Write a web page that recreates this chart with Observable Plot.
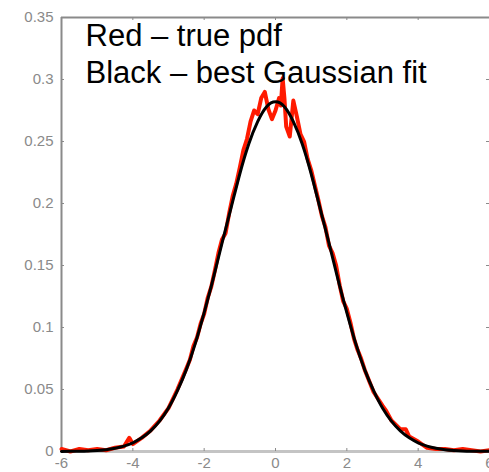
<!DOCTYPE html>
<html>
<head>
<meta charset="utf-8">
<script src="https://cdn.jsdelivr.net/npm/d3@7"></script>
<script src="https://cdn.jsdelivr.net/npm/@observablehq/plot@0.6"></script>
<style>
  html, body { margin: 0; padding: 0; background: #fff; overflow: hidden; }
  #chart { width: 489px; height: 472px; overflow: hidden; }
</style>
</head>
<body>
<div id="chart"></div>
<script>
// Tick values
const xTicks = [-6, -4, -2, 0, 2, 4, 6];
const yTicks = [0, 0.05, 0.1, 0.15, 0.2, 0.25, 0.3, 0.35];

// Annotation text
const annotation = ["Red – true pdf", "Black – best Gaussian fit"];

const redX = [-6, -5.75, -5.5, -5.25, -5, -4.75, -4.5, -4.25, -4.1, -4, -3.75, -3.5, -3.25, -3, -2.75, -2.5,
  -2.4, -2.3, -2.2, -2.1, -2, -1.9, -1.8, -1.7, -1.6, -1.5, -1.4, -1.3, -1.2, -1.1, -1, -0.9, -0.8, -0.7, -0.6, -0.5,
  -0.4, -0.3, -0.2, -0.1, 0, 0.1, 0.15, 0.2, 0.25, 0.3, 0.4, 0.5, 0.6, 0.7, 0.8, 0.9, 1, 1.1, 1.2, 1.3, 1.4, 1.5,
  1.6, 1.7, 1.8, 1.9, 2, 2.1, 2.2, 2.3, 2.4, 2.5, 2.75, 3, 3.1, 3.25, 3.5, 3.65, 3.75, 4, 4.25, 4.5, 4.75, 5,
  5.25, 5.5, 5.75, 6];
const redY = [0.002, 0.000, 0.002, 0.001, 0.002, 0.001, 0.003, 0.004, 0.011, 0.006, 0.011, 0.017, 0.025, 0.035, 0.050, 0.067,
  0.074, 0.085, 0.092, 0.103, 0.111, 0.124, 0.133, 0.146, 0.160, 0.171, 0.176, 0.192, 0.206, 0.216, 0.229, 0.243, 0.252, 0.266, 0.275, 0.272,
  0.285, 0.290, 0.276, 0.268, 0.275, 0.285, 0.279, 0.301, 0.285, 0.262, 0.254, 0.283, 0.270, 0.256, 0.250, 0.236, 0.227, 0.215, 0.203, 0.190, 0.181, 0.166,
  0.160, 0.150, 0.134, 0.121, 0.115, 0.104, 0.091, 0.082, 0.075, 0.066, 0.048, 0.037, 0.033, 0.025, 0.018, 0.018, 0.012, 0.008, 0.003, 0.002, 0.002, 0.001,
  0.002, 0.001, 0.000, 0.001];

// Black: best Gaussian fit
const blackX = [-6, -5.75, -5.5, -5.25, -5, -4.75, -4.5, -4.25, -4, -3.75, -3.5, -3.25, -3, -2.75, -2.5, -2.25,
  -2, -1.75, -1.5, -1.25, -1, -0.75, -0.5, -0.25, 0, 0.25, 0.5, 0.75, 1, 1.25, 1.5, 1.75, 2, 2.25, 2.5, 2.75,
  3, 3.25, 3.5, 3.75, 4, 4.25, 4.5, 4.75, 5, 5.25, 5.5, 5.75, 6];
const blackY = [0.0001, 0.0002, 0.0003, 0.0005, 0.0009, 0.0015, 0.0026, 0.0043, 0.007, 0.011, 0.0166, 0.0245, 0.035, 0.049, 0.066, 0.087,
  0.112, 0.139, 0.168, 0.196, 0.224, 0.248, 0.266, 0.278, 0.282, 0.278, 0.266, 0.248, 0.224, 0.196, 0.168, 0.139, 0.112, 0.087, 0.066, 0.049,
  0.035, 0.0245, 0.0166, 0.011, 0.007, 0.0043, 0.0026, 0.0015, 0.0009, 0.0005, 0.0003, 0.0002, 0.0001];

const red = redX.map((x, i) => ({x, y: redY[i]}));
const black = blackX.map((x, i) => ({x, y: blackY[i]}));

const W = 489, H = 472, mL = 61, mR = 0, mT = 17, mB = 21;
const innerW = W - mL - mR, innerH = H - mT - mB;
const gray = "#8a8a8a";

const chart = Plot.plot({
  width: W,
  height: H,
  marginLeft: mL,
  marginRight: mR,
  marginTop: mT,
  marginBottom: mB,
  style: {fontFamily: "'Liberation Sans', Arial, sans-serif", background: "#fff", overflow: "hidden"},
  x: {domain: [-6, 6]},
  y: {domain: [0, 0.35]},
  marks: [
    // frame
    Plot.ruleY([0], {stroke: "#c4c4c4", strokeWidth: 3}),
    Plot.ruleX([-6], {stroke: gray, strokeWidth: 2}),
    Plot.ruleY([0.35], {stroke: gray, strokeWidth: 2}),
    // inward ticks
    Plot.tickX(xTicks, {x: d => d, stroke: gray, insetTop: innerH - 3}),
    Plot.tickX(xTicks, {x: d => d, stroke: gray, insetBottom: innerH - 3}),
    Plot.tickY(yTicks, {y: d => d, stroke: gray, insetRight: innerW - 3}),
    Plot.tickY(yTicks, {y: d => d, stroke: gray, insetLeft: innerW - 3}),
    // axis labels
    Plot.axisX({ticks: xTicks, tickSize: 0, tickPadding: 6, tickFormat: d => String(d), fontSize: 15, fill: gray, label: null}),
    Plot.axisY({ticks: yTicks, tickSize: 0, tickPadding: 8, tickFormat: d => String(d), fontSize: 15, fill: gray, label: null}),
    // curves
    Plot.line(red, {x: "x", y: "y", stroke: "#ff1a00", strokeWidth: 4, curve: "linear"}),
    Plot.line(black, {x: "x", y: "y", stroke: "#000", strokeWidth: 3, curve: "natural"}),
    // annotation
    Plot.text([annotation.join("\n")], {
      frameAnchor: "top-left", textAnchor: "start", lineAnchor: "top",
      dx: 24, dy: 3, fontSize: 31, lineHeight: 1.17, fill: "#000"
    })
  ]
});
document.getElementById("chart").append(chart);
</script>
</body>
</html>
